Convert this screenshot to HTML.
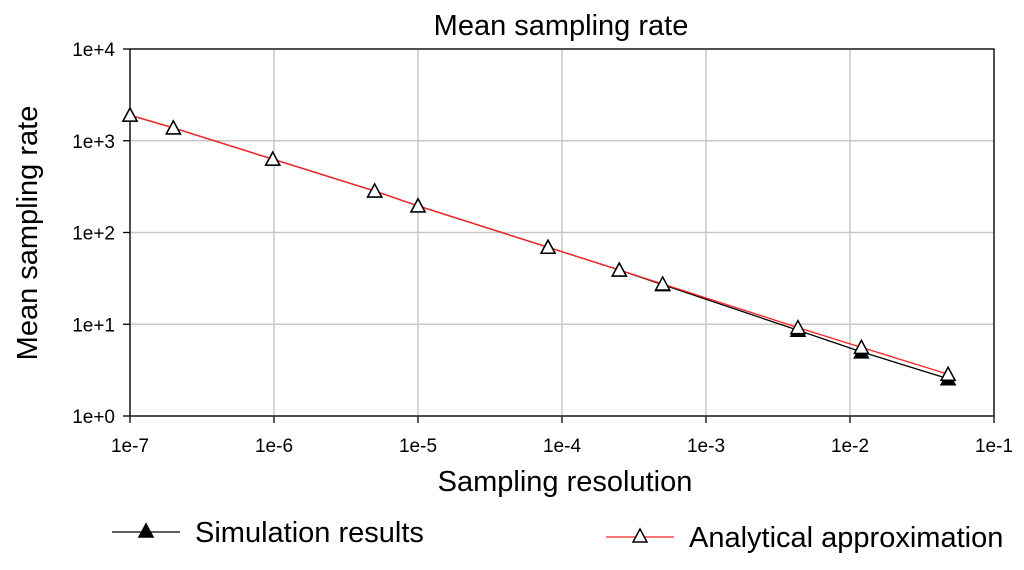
<!DOCTYPE html>
<html><head><meta charset="utf-8"><style>
body{margin:0;background:#fff;width:1024px;height:565px;overflow:hidden;font-family:"Liberation Sans",sans-serif}
</style></head><body>
<svg id="c" width="1024" height="565" xmlns="http://www.w3.org/2000/svg"></svg>
<script>
const xVals=[1e-7,2e-7,9.8e-7,5e-6,1e-5,8e-5,2.5e-4,5e-4,4.35e-3,1.2e-2,4.8e-2];
const simVals=[1900,1380,630,283,195,69,39,27,8.6,5.0,2.55];
const anaVals=[1900,1380,630,283,195,69,39,27.5,9.2,5.6,2.85];
const xTicks=["1e-7","1e-6","1e-5","1e-4","1e-3","1e-2","1e-1"];
const yTicks=["1e+0","1e+1","1e+2","1e+3","1e+4"];
const L=130,R=994,T=49,B=416;
const sx=v=>L+(Math.log10(v)+7)/6*(R-L);
const sy=v=>B-Math.log10(v)/4*(B-T);
const svg=document.getElementById('c');
const NS="http://www.w3.org/2000/svg";
function mk(t,a,txt){const e=document.createElementNS(NS,t);for(const k in a)e.setAttribute(k,a[k]);if(txt!==undefined)e.textContent=txt;svg.appendChild(e);return e;}
xTicks.forEach((t,i)=>{const x=L+i*(R-L)/6;
 const g=mk('line',{x1:x,x2:x,y1:T,y2:B,stroke:'#c8c8c8','stroke-width':1.5});
 
 const tk=mk('line',{x1:x,x2:x,y1:B,y2:B+7,stroke:'#000','stroke-width':1.3});
 
 const lb=mk('text',{x:x,y:B+36,'text-anchor':'middle','font-size':19},t);
 });
yTicks.forEach((t,i)=>{const y=B-i*(B-T)/4;
 const g=mk('line',{x1:L,x2:R,y1:y,y2:y,stroke:'#c8c8c8','stroke-width':1.5});
 
 const tk=mk('line',{x1:L-7,x2:L,y1:y,y2:y,stroke:'#000','stroke-width':1.3});
 
 const lb=mk('text',{x:L-15,y:y+7,'text-anchor':'end','font-size':19},t);
 });
const fr=mk('rect',{x:L,y:T,width:R-L,height:B-T,fill:'none',stroke:'#000','stroke-width':1.3});

function tri(x,y,fill,name){const p=mk('polygon',{points:`${x},${y-7} ${x-7},${y+6} ${x+7},${y+6}`,fill:fill,stroke:'#000','stroke-width':1.5});
 }
const simLine=mk('polyline',{points:xVals.map((v,i)=>sx(v)+','+sy(simVals[i])).join(' '),fill:'none',stroke:'#000','stroke-width':1.3});

xVals.forEach((v,i)=>tri(sx(v),sy(simVals[i]),'#000','simulation-point'));
const anaLine=mk('polyline',{points:xVals.map((v,i)=>sx(v)+','+sy(anaVals[i])).join(' '),fill:'none',stroke:'#f22','stroke-width':1.3});

xVals.forEach((v,i)=>tri(sx(v),sy(anaVals[i]),'#fff','analytical-point'));
const ti=mk('text',{x:561,y:35,'text-anchor':'middle','font-size':29},'Mean sampling rate');

const xt=mk('text',{x:565,y:491,'text-anchor':'middle','font-size':29},'Sampling resolution');

const yt=mk('text',{x:0,y:0,'text-anchor':'middle','font-size':29,transform:'translate(37,233) rotate(-90)'},'Mean sampling rate');

const l1=mk('line',{x1:112,x2:180,y1:532,y2:532,stroke:'#000','stroke-width':1.3});

tri(146,531,'#000','legend-simulation-marker');
const lt1=mk('text',{x:195,y:542,'font-size':29},'Simulation results');

const l2=mk('line',{x1:606,x2:674,y1:537,y2:537,stroke:'#f22','stroke-width':1.3});

tri(640,536,'#fff','legend-analytical-marker');
const lt2=mk('text',{x:689,y:547,'font-size':29},'Analytical approximation');

</script>
</body></html>
